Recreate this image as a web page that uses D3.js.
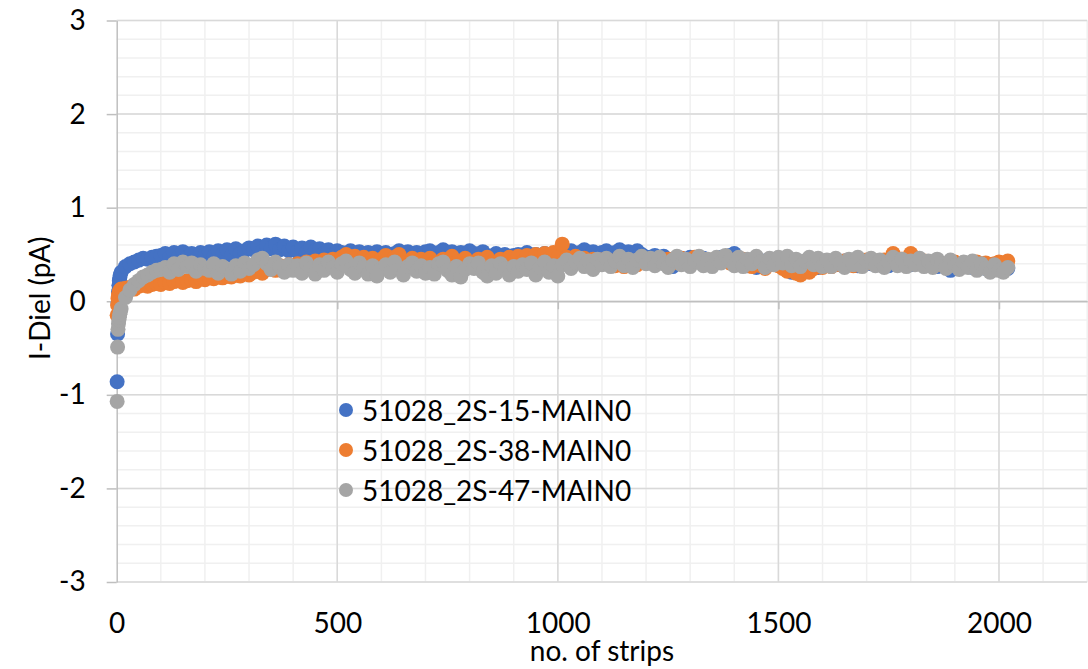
<!DOCTYPE html>
<html>
<head>
<meta charset="utf-8">
<script src="https://cdn.jsdelivr.net/npm/d3@7"></script>
<style>
  html, body { margin: 0; padding: 0; background: #fff; }
  svg { display: block; font-family: Lato, "Open Sans", sans-serif; }
</style>
</head>
<body>
<svg id="chart" width="1088" height="669"></svg>
<script>
// Dielectric current per strip for three sensors
const seriesNames = ["51028_2S-15-MAIN0", "51028_2S-38-MAIN0", "51028_2S-47-MAIN0"];
const seriesColors = ["#4472C4", "#ED7D31", "#A5A5A5"];

// Strip numbers: the first few strips individually, then every 10th strip
const stripsEarly = [1, 2, 3, 4, 5, 6, 7, 8];
const stripsRegular = d3.range(10, 2030, 10);
const strips = stripsEarly.concat(stripsRegular);

// I-Diel (pA), sensor 2S-15
const valuesS15 = [
  -0.86, -0.35, -0.02, 0.10, 0.17, 0.22, 0.25, 0.28,
  0.31, 0.37, 0.40, 0.42, 0.44, 0.46, 0.45, 0.47, 0.48, 0.49,
  0.51, 0.46, 0.52, 0.48, 0.53, 0.47, 0.51, 0.45, 0.52, 0.49,
  0.53, 0.48, 0.54, 0.50, 0.55, 0.49, 0.56, 0.51, 0.54, 0.57,
  0.55, 0.59, 0.53, 0.60, 0.56, 0.61, 0.55, 0.59, 0.54, 0.58,
  0.53, 0.57, 0.52, 0.58, 0.54, 0.56, 0.51, 0.55, 0.50, 0.54,
  0.52, 0.48, 0.54, 0.50, 0.53, 0.47, 0.52, 0.49, 0.53, 0.48,
  0.52, 0.47, 0.51, 0.54, 0.48, 0.53, 0.46, 0.52, 0.49, 0.53,
  0.54, 0.48, 0.52, 0.55, 0.47, 0.53, 0.49, 0.52, 0.48, 0.54,
  0.51, 0.46, 0.53, 0.48, 0.45, 0.51, 0.47, 0.50, 0.45, 0.49,
  0.50, 0.46, 0.52, 0.47, 0.50, 0.45, 0.51, 0.47, 0.49, 0.52,
  0.53, 0.48, 0.54, 0.49, 0.52, 0.55, 0.48, 0.53, 0.47, 0.52,
  0.54, 0.49, 0.52, 0.55, 0.48, 0.53, 0.47, 0.54, 0.50, 0.47,
  0.47, 0.49, 0.46, 0.48, 0.45, 0.37, 0.44, 0.46, 0.45, 0.47,
  0.45, 0.43, 0.46, 0.44, 0.42, 0.45, 0.47, 0.44, 0.49, 0.51,
  0.46, 0.42, 0.38, 0.41, 0.36, 0.39, 0.43, 0.40, 0.44, 0.41,
  0.38, 0.34, 0.31, 0.35, 0.33, 0.37, 0.34, 0.38, 0.36, 0.39,
  0.41, 0.38, 0.42, 0.39, 0.43, 0.40, 0.42, 0.38, 0.41, 0.43,
  0.40, 0.42, 0.39, 0.41, 0.38, 0.42, 0.40, 0.43, 0.41, 0.39,
  0.42, 0.40, 0.38, 0.41, 0.39, 0.37, 0.40, 0.36, 0.33, 0.35,
  0.38, 0.41, 0.39, 0.36, 0.40, 0.38, 0.35, 0.39, 0.37, 0.36,
  0.38, 0.35
];

// I-Diel (pA), sensor 2S-38
const valuesS38 = [
  -0.15, -0.04, 0.03, 0.06, 0.08, 0.10, 0.11, 0.12,
  0.13, 0.14, 0.15, 0.13, 0.16, 0.17, 0.16, 0.18, 0.19, 0.18,
  0.20, 0.19, 0.21, 0.22, 0.20, 0.22, 0.23, 0.21, 0.24, 0.23,
  0.25, 0.24, 0.26, 0.25, 0.27, 0.26, 0.28, 0.27, 0.30, 0.28,
  0.31, 0.33, 0.30, 0.34, 0.36, 0.33, 0.38, 0.35, 0.39, 0.37,
  0.40, 0.38, 0.42, 0.39, 0.43, 0.41, 0.44, 0.42, 0.45, 0.43,
  0.47, 0.50, 0.42, 0.48, 0.40, 0.47, 0.39, 0.46, 0.38, 0.45,
  0.49, 0.40, 0.47, 0.50, 0.41, 0.39, 0.46, 0.38, 0.45, 0.40,
  0.46, 0.41, 0.38, 0.45, 0.40, 0.48, 0.42, 0.37, 0.46, 0.40,
  0.39, 0.45, 0.40, 0.47, 0.41, 0.37, 0.45, 0.40, 0.47, 0.42,
  0.48, 0.42, 0.49, 0.43, 0.50, 0.44, 0.51, 0.45, 0.52, 0.47,
  0.61, 0.47, 0.45, 0.48, 0.44, 0.46, 0.43, 0.45, 0.42, 0.44,
  0.40, 0.43, 0.38, 0.41, 0.37, 0.40, 0.42, 0.39, 0.43, 0.41,
  0.43, 0.40, 0.44, 0.42, 0.45, 0.41, 0.43, 0.46, 0.42, 0.44,
  0.47, 0.43, 0.45, 0.42, 0.44, 0.46, 0.43, 0.45, 0.41, 0.44,
  0.42, 0.45, 0.40, 0.37, 0.41, 0.38, 0.35, 0.39, 0.42, 0.38,
  0.35, 0.32, 0.36, 0.30, 0.28, 0.33, 0.31, 0.35, 0.38, 0.36,
  0.40, 0.37, 0.42, 0.39, 0.43, 0.41, 0.38, 0.42, 0.40, 0.44,
  0.41, 0.43, 0.40, 0.44, 0.42, 0.51, 0.43, 0.45, 0.45, 0.51,
  0.42, 0.40, 0.43, 0.41, 0.38, 0.42, 0.39, 0.37, 0.40, 0.42,
  0.39, 0.41, 0.38, 0.40, 0.42, 0.39, 0.41, 0.38, 0.40, 0.42,
  0.41, 0.43
];

// I-Diel (pA), sensor 2S-47
const valuesS47 = [
  -1.07, -0.49, -0.30, -0.24, -0.20, -0.17, -0.14, -0.12,
  -0.08, 0.04, 0.12, 0.18, 0.22, 0.26, 0.28, 0.31, 0.33, 0.34,
  0.36, 0.31, 0.40, 0.34, 0.42, 0.37, 0.41, 0.32, 0.39, 0.35,
  0.33, 0.40, 0.30, 0.37, 0.34, 0.29, 0.38, 0.32, 0.41, 0.35,
  0.39, 0.44, 0.46, 0.40, 0.34, 0.42, 0.37, 0.31, 0.39, 0.33,
  0.38, 0.30, 0.41, 0.35, 0.29, 0.39, 0.33, 0.42, 0.36, 0.31,
  0.40, 0.43, 0.34, 0.30, 0.41, 0.36, 0.29, 0.38, 0.27, 0.35,
  0.39, 0.31, 0.42, 0.34, 0.28, 0.37, 0.41, 0.32, 0.38, 0.30,
  0.36, 0.29, 0.40, 0.42, 0.33, 0.28, 0.37, 0.26, 0.34, 0.40,
  0.35, 0.41, 0.31, 0.27, 0.38, 0.30, 0.40, 0.35, 0.28, 0.37,
  0.32, 0.39, 0.34, 0.41, 0.28, 0.36, 0.42, 0.31, 0.38, 0.27,
  0.39, 0.44, 0.35, 0.42, 0.46, 0.37, 0.43, 0.34, 0.45, 0.39,
  0.46, 0.37, 0.43, 0.48, 0.38, 0.45, 0.36, 0.44, 0.48, 0.40,
  0.46, 0.38, 0.47, 0.40, 0.36, 0.44, 0.48, 0.39, 0.45, 0.37,
  0.43, 0.48, 0.38, 0.45, 0.37, 0.47, 0.41, 0.49, 0.44, 0.38,
  0.47, 0.37, 0.45, 0.40, 0.48, 0.42, 0.36, 0.46, 0.39, 0.47,
  0.41, 0.48, 0.38, 0.45, 0.37, 0.43, 0.47, 0.39, 0.46, 0.37,
  0.44, 0.37, 0.46, 0.40, 0.36, 0.45, 0.39, 0.47, 0.37, 0.43,
  0.46, 0.38, 0.44, 0.36, 0.42, 0.47, 0.38, 0.45, 0.37, 0.43,
  0.39, 0.46, 0.37, 0.43, 0.36, 0.45, 0.40, 0.35, 0.44, 0.38,
  0.34, 0.42, 0.36, 0.43, 0.33, 0.40, 0.35, 0.31, 0.39, 0.33,
  0.31, 0.36
];

const seriesValues = [valuesS15, valuesS38, valuesS47];

// Axis ticks and labels
const xTicks = [0, 500, 1000, 1500, 2000];
const xMinorTicks = d3.range(100, 2300, 100);
const yTicks = [-3, -2, -1, 0, 1, 2, 3];
const yMinorTicks = d3.range(-3, 3.001, 0.2).map(v => +v.toFixed(1));
const xDomain = [0, 2200];
const yDomain = [-3, 3];
const xTitle = "no. of strips";
const yTitle = "I-Diel (pA)";

// ---- drawing ----
const svg = d3.select("#chart");
const plot = { left: 116.7, right: 1087.2, top: 20.5, bottom: 582 };

const x = d3.scaleLinear().domain(xDomain).range([plot.left, plot.right]);
const y = d3.scaleLinear().domain(yDomain).range([plot.bottom, plot.top]);

const gridColorMinor = "#f0f0f0";
const gridColorMajor = "#d9d9d9";
const axisColor = "#bfbfbf";
const fontSize = 28;
const fontFamily = "Lato, 'Open Sans', sans-serif";

const grid = svg.append("g");

// minor gridlines
grid.selectAll("line.vminor").data(xMinorTicks).join("line")
  .attr("x1", d => x(d)).attr("x2", d => x(d))
  .attr("y1", plot.top).attr("y2", plot.bottom)
  .attr("stroke", gridColorMinor).attr("stroke-width", 1.5);
grid.selectAll("line.hminor").data(yMinorTicks).join("line")
  .attr("x1", plot.left).attr("x2", plot.right)
  .attr("y1", d => y(d)).attr("y2", d => y(d))
  .attr("stroke", gridColorMinor).attr("stroke-width", 1.5);

// major gridlines
grid.selectAll("line.vmajor").data(xTicks.filter(d => d > 0)).join("line")
  .attr("x1", d => x(d)).attr("x2", d => x(d))
  .attr("y1", plot.top).attr("y2", plot.bottom)
  .attr("stroke", gridColorMajor).attr("stroke-width", 1.5);
grid.selectAll("line.hmajor").data(yTicks).join("line")
  .attr("x1", plot.left).attr("x2", plot.right)
  .attr("y1", d => y(d)).attr("y2", d => y(d))
  .attr("stroke", gridColorMajor).attr("stroke-width", 1.5);

// y axis: line at x = 0 with outside ticks and labels (plain hyphen for negatives)
const yAxis = svg.append("g")
  .attr("transform", `translate(${plot.left},0)`)
  .call(d3.axisLeft(y).tickValues(yTicks).tickSize(10).tickSizeOuter(0).tickPadding(21)
    .tickFormat(d => String(d)));
yAxis.selectAll("path, line").attr("stroke", axisColor).attr("stroke-width", 1.5);
yAxis.selectAll("text").attr("font-size", fontSize).attr("fill", "#000")
  .attr("font-family", fontFamily);

// x axis: line at y = 0 with downward ticks
const xAxis = svg.append("g")
  .attr("transform", `translate(0,${y(0)})`)
  .call(d3.axisBottom(x).tickValues(xTicks).tickSize(8).tickSizeOuter(0).tickFormat(""));
xAxis.selectAll("path, line").attr("stroke", axisColor).attr("stroke-width", 1.5);

// x tick labels sit below the plot area
const xLabels = svg.append("g")
  .attr("transform", `translate(0,${plot.bottom})`)
  .call(d3.axisBottom(x).tickValues(xTicks).tickSize(0).tickPadding(31)
    .tickFormat(d => String(d)));
xLabels.select(".domain").remove();
xLabels.selectAll("text").attr("font-size", fontSize).attr("fill", "#000")
  .attr("font-family", fontFamily);

// scatter markers, later series drawn on top
seriesValues.forEach((vals, i) => {
  svg.append("g").selectAll("circle")
    .data(vals.map((v, j) => ({ s: strips[j], v })))
    .join("circle")
    .attr("cx", d => x(d.s))
    .attr("cy", d => y(d.v))
    .attr("r", 7.5)
    .attr("fill", seriesColors[i]);
});

// axis titles
svg.append("text")
  .attr("x", (plot.left + plot.right) / 2)
  .attr("y", 661)
  .attr("text-anchor", "middle")
  .attr("font-size", fontSize)
  .attr("fill", "#000")
  .text(xTitle);

svg.append("text")
  .attr("transform", `translate(50,${(plot.top + plot.bottom) / 2 - 3}) rotate(-90)`)
  .attr("text-anchor", "middle")
  .attr("font-size", fontSize)
  .attr("fill", "#000")
  .text(yTitle);

// legend
const legend = svg.append("g").attr("transform", "translate(346,410)");
const items = legend.selectAll("g").data(seriesNames).join("g")
  .attr("transform", (d, i) => `translate(0,${i * 40})`);
items.append("circle").attr("r", 7).attr("fill", (d, i) => seriesColors[i]);
items.append("text")
  .attr("x", 16).attr("dy", "0.4em")
  .attr("font-size", fontSize)
  .attr("fill", "#000")
  .text(d => d);
</script>
</body>
</html>
